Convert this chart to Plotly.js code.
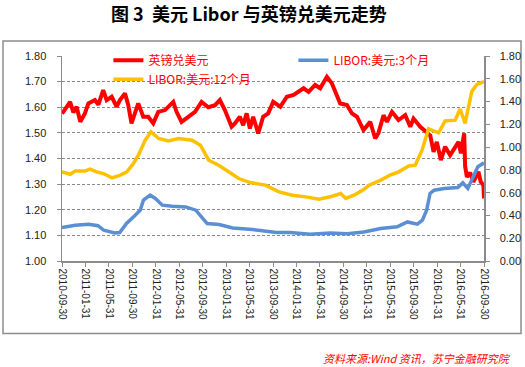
<!DOCTYPE html>
<html>
<head>
<meta charset="utf-8">
<script src="https://cdn.plot.ly/plotly-3.0.1.min.js"></script>
<style>
html,body{margin:0;padding:0;background:#fff;}
#chart{width:525px;height:367px;}
</style>
</head>
<body>
<div id="chart"></div>
<script>
// ---- DATA ----
const gbpDates = ['2010-09-30','2010-10-07','2010-11-11','2010-11-28','2010-12-15','2011-01-03','2011-01-27','2011-02-14','2011-03-20','2011-04-07','2011-05-02','2011-05-20','2011-06-15','2011-07-11','2011-07-28','2011-08-23','2011-09-09','2011-09-26','2011-10-31','2011-11-26','2011-12-22','2012-01-17','2012-02-12','2012-03-18','2012-04-30','2012-05-17','2012-06-12','2012-07-17','2012-08-21','2012-09-24','2012-10-29','2012-12-03','2012-12-28','2013-01-23','2013-02-27','2013-03-16','2013-04-11','2013-04-28','2013-05-16','2013-06-02','2013-06-19','2013-07-15','2013-08-10','2013-09-05','2013-10-01','2013-11-07','2013-12-11','2014-01-15','2014-02-10','2014-03-08','2014-04-03','2014-05-07','2014-06-02','2014-07-07','2014-08-02','2014-09-05','2014-09-14','2014-10-19','2014-11-14','2014-12-10','2015-01-13','2015-02-17','2015-03-15','2015-04-01','2015-04-27','2015-05-15','2015-06-10','2015-07-14','2015-08-18','2015-09-13','2015-09-30','2015-11-04','2015-12-08','2015-12-26','2016-01-12','2016-01-29','2016-02-19','2016-03-12','2016-04-07','2016-05-03','2016-05-21','2016-06-02','2016-06-19','2016-06-24','2016-07-03','2016-07-20','2016-08-06','2016-09-01','2016-09-13','2016-09-27','2016-09-30'];
const gbpUsd = [1.576,1.582,1.621,1.580,1.602,1.543,1.576,1.615,1.628,1.610,1.667,1.628,1.641,1.602,1.628,1.654,1.609,1.537,1.615,1.563,1.563,1.537,1.582,1.589,1.621,1.582,1.543,1.563,1.582,1.621,1.600,1.608,1.628,1.589,1.524,1.537,1.563,1.530,1.576,1.517,1.563,1.498,1.563,1.576,1.621,1.602,1.641,1.648,1.660,1.674,1.660,1.687,1.674,1.719,1.693,1.628,1.615,1.609,1.576,1.563,1.511,1.543,1.478,1.500,1.569,1.543,1.582,1.550,1.569,1.524,1.556,1.524,1.504,1.490,1.426,1.465,1.394,1.446,1.413,1.446,1.465,1.420,1.498,1.370,1.328,1.345,1.309,1.348,1.309,1.296,1.244];

const libor3mDates = ['2010-09-30','2010-12-08','2011-02-15','2011-04-05','2011-05-05','2011-07-01','2011-07-27','2011-08-31','2011-10-14','2011-11-10','2011-11-27','2012-01-01','2012-01-28','2012-03-04','2012-04-25','2012-07-04','2012-08-25','2012-10-05','2012-10-23','2012-12-24','2013-03-05','2013-06-16','2013-10-18','2013-12-27','2014-04-11','2014-07-24','2014-10-20','2015-01-15','2015-04-12','2015-07-07','2015-08-29','2015-10-20','2015-11-15','2015-12-07','2015-12-25','2016-01-15','2016-03-08','2016-05-17','2016-06-12','2016-07-08','2016-08-03','2016-08-29','2016-09-30'];
const libor3m = [0.294,0.314,0.323,0.310,0.270,0.246,0.250,0.329,0.400,0.446,0.534,0.578,0.549,0.490,0.481,0.475,0.446,0.358,0.329,0.320,0.290,0.276,0.250,0.250,0.235,0.246,0.240,0.255,0.285,0.300,0.343,0.323,0.358,0.446,0.593,0.622,0.637,0.645,0.686,0.637,0.739,0.827,0.862];

const libor12mDates = ['2010-09-30','2010-11-12','2010-12-08','2011-01-29','2011-02-23','2011-03-29','2011-05-03','2011-06-17','2011-07-30','2011-09-02','2011-10-06','2011-11-01','2011-12-06','2012-01-05','2012-02-14','2012-04-05','2012-05-27','2012-08-05','2012-09-18','2012-10-14','2012-10-31','2012-12-22','2013-02-12','2013-04-05','2013-06-04','2013-08-22','2013-10-31','2014-01-09','2014-03-19','2014-05-27','2014-08-04','2014-09-17','2014-10-13','2014-11-25','2015-01-16','2015-02-11','2015-04-04','2015-05-31','2015-07-15','2015-09-05','2015-10-09','2015-11-13','2015-12-17','2016-02-07','2016-03-12','2016-05-03','2016-05-29','2016-06-24','2016-07-08','2016-07-29','2016-08-24','2016-09-30'];
const libor12m = [0.783,0.762,0.791,0.791,0.806,0.783,0.768,0.730,0.754,0.783,0.856,0.929,1.061,1.134,1.076,1.055,1.076,1.061,1.017,0.944,0.885,0.841,0.783,0.724,0.689,0.666,0.607,0.578,0.563,0.543,0.569,0.593,0.549,0.578,0.630,0.666,0.703,0.754,0.783,0.835,0.841,0.973,1.160,1.125,1.230,1.237,1.335,1.208,1.325,1.490,1.550,1.574];

const tickDates = ['2010-09-30','2011-01-31','2011-05-31','2011-09-30','2012-01-31','2012-05-31','2012-09-30','2013-01-31','2013-05-31','2013-09-30','2014-01-31','2014-05-31','2014-09-30','2015-01-31','2015-05-31','2015-09-30','2016-01-31','2016-05-31','2016-09-30'];
const tickLabels = tickDates.slice();

const seriesNames = ['英镑兑美元','LIBOR:美元:3个月','LIBOR:美元:12个月'];
const titleText = '图 3  美元 Libor 与英镑兑美元走势';
const sourceText = '资料来源:Wind 资讯，苏宁金融研究院';

// ---- CHART ----
const cjk = '"Noto Sans CJK SC", "Liberation Sans", sans-serif';
const tickFont = {family:'"Liberation Sans", Arial, sans-serif', size:11, color:'#222'};
const axisGray = '#8c8c8c';

const traces = [
  {x:gbpDates, y:gbpUsd, name:seriesNames[0], type:'scatter', mode:'lines',
   line:{color:'#ff0000', width:4}, yaxis:'y'},
  {x:libor3mDates, y:libor3m, name:seriesNames[1], type:'scatter', mode:'lines',
   line:{color:'#5b8fd5', width:3.5}, yaxis:'y2'},
  {x:libor12mDates, y:libor12m, name:seriesNames[2], type:'scatter', mode:'lines',
   line:{color:'#ffc000', width:3.5}, yaxis:'y2'}
];

const layout = {
  width:525, height:367,
  margin:{l:62, r:41, t:56, b:106},
  paper_bgcolor:'#fff', plot_bgcolor:'#fff',
  showlegend:true,
  title:{text:titleText, font:{family:cjk, size:18, color:'#000', weight:'bold'},
         x:0.474, xref:'container', xanchor:'center', y:0.959, yref:'container', yanchor:'middle'},
  xaxis:{type:'date', range:['2010-09-30','2016-09-30'],
         tickmode:'array', tickvals:tickDates, ticktext:tickLabels,
         tickangle:90, tickfont:{family:'"Liberation Sans", Arial, sans-serif', size:10, color:'#222'},
         showline:true, linecolor:axisGray, linewidth:1.5,
         ticks:'outside', ticklen:4, tickcolor:axisGray, showgrid:false, zeroline:false, fixedrange:true},
  yaxis:{range:[1.0,1.8], dtick:0.1, tick0:1.0, tickformat:'.2f', tickfont:tickFont,
         showline:true, linecolor:axisGray, linewidth:1.5,
         ticks:'outside', ticklen:4, tickcolor:axisGray, ticklabelstandoff:8,
         showgrid:true, gridcolor:'#8a8a8a', gridwidth:1, griddash:'3px,2px', zeroline:false},
  yaxis2:{range:[0,1.8], dtick:0.2, tick0:0, tickformat:'.2f', tickfont:tickFont,
          overlaying:'y', side:'right',
          showline:true, linecolor:axisGray, linewidth:1.5,
          ticks:'outside', ticklen:4, tickcolor:axisGray, ticklabelstandoff:8,
          showgrid:false, zeroline:false},
  legend:{orientation:'h', x:0.11, xanchor:'left', y:1.05, yanchor:'top',
          entrywidth:140, entrywidthmode:'pixels',
          bgcolor:'rgba(0,0,0,0)', font:{family:cjk, size:12, color:'#ff0000'},
          traceorder:'normal', itemwidth:30},
  shapes:[{type:'rect', xref:'paper', yref:'paper', x0:-0.1398, x1:1.0877, y0:-0.3532, y1:1.0733,
           line:{color:'#8c8c8c', width:1.5}, fillcolor:'rgba(0,0,0,0)', layer:'below'}],
  annotations:[{text:sourceText, xref:'paper', yref:'paper', x:1.0687, y:-0.475,
                xanchor:'right', yanchor:'middle', showarrow:false,
                font:{family:cjk, size:11, color:'#ff0000', style:'italic'}}]
};

Plotly.newPlot('chart', traces, layout, {displayModeBar:false, staticPlot:true});
</script>
</body>
</html>
